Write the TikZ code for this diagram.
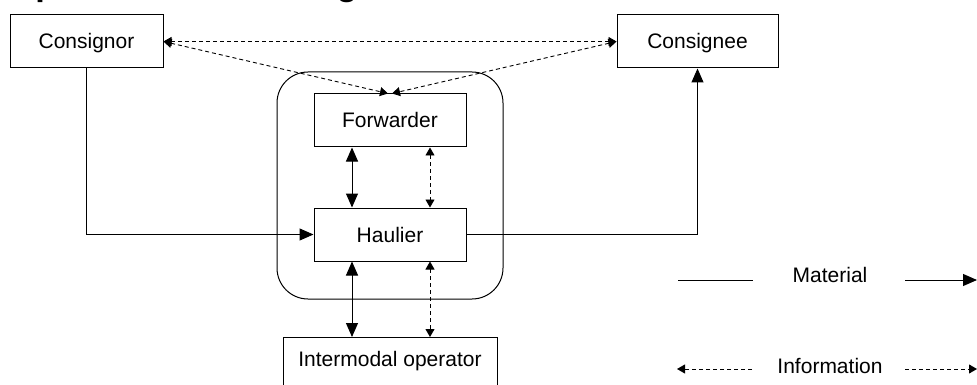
\documentclass[tikz,border=0pt]{standalone}
\usepackage{fontspec}
\setmainfont{Liberation Sans}
\usetikzlibrary{arrows.meta}
\begin{document}
\begin{tikzpicture}[x=1pt,y=-1pt,
  every node/.style={font=\fontsize{21}{25}\selectfont},
  box/.style={draw, line width=1pt, inner sep=0pt},
  lbl/.style={text height=15pt, text depth=0pt, inner sep=2pt},
  mat/.style={line width=1pt},
  info/.style={line width=0.9pt, dash pattern=on 4pt off 3pt},
  bigtip/.style={-{Triangle[length=14pt,width=12pt]}},
  bigtips/.style={{Triangle[length=14pt,width=12pt]}-{Triangle[length=14pt,width=12pt]}},
  smalltip/.style={-{Triangle[length=8pt,width=9pt]}},
  smalltips/.style={{Triangle[length=8pt,width=9pt]}-{Triangle[length=8pt,width=9pt]}}]

\useasboundingbox (0,0) rectangle (977,385);

% heading, only its lower edge falls inside the page
\begin{scope}
  \clip (0,0) rectangle (977,385);
  \node[anchor=base west, inner sep=0pt, font=\bfseries\fontsize{34.3}{40}\selectfont]
    (title) at (8.6,-4) {Operators in the freight chain};
\end{scope}

% actors
\node (cnor) [box, lbl, minimum width=153pt, minimum height=53pt] at (86.5,41.5) {Consignor};
\node (cnee) [box, lbl, minimum width=161pt, minimum height=53pt] at (697.5,41.5) {Consignee};
\node (grp)  [draw, line width=1pt, rounded corners=31pt, minimum width=226pt, minimum height=227pt] at (390,185.5) {};
\node (fwd)  [box, lbl, minimum width=152pt, minimum height=53pt] at (390,120.5) {Forwarder};
\node (haul) [box, lbl, minimum width=152pt, minimum height=53pt] at (390,234.5) {Haulier};
\node (iop)  [box, anchor=north, minimum width=214pt, minimum height=60pt] at (390,337) {};
\node (iopl) [lbl] at (390,359) {Intermodal operator};

% material flow
\draw[mat, bigtip] (cnor.south) |- (haul.west);
\draw[mat, bigtip] (haul.east) -| (cnee.south);
\draw[mat, bigtips] ([xshift=-38pt]fwd.south) -- ([xshift=-38pt]haul.north);
\draw[mat, bigtips] ([xshift=-38pt]haul.south) -- ([xshift=-38pt]iop.north);

% information flow
\draw[info, smalltips] (cnor.east) -- (cnee.west);
\draw[info, smalltips] (cnor.east) -- ([xshift=-2pt]fwd.north);
\draw[info, smalltips] (cnee.west) -- ([xshift=2pt]fwd.north);
\draw[info, smalltips] ([xshift=40pt]fwd.south) -- ([xshift=40pt]haul.north);
\draw[info, smalltips] ([xshift=40pt]haul.south) -- ([xshift=40pt]iop.north);

% legend
\node (lmat)  at (830,275) {Material};
\node (linfo) at (830,366) {Information};
\coordinate (m1) at (678,280);
\coordinate (m2) at (753,280);
\coordinate (m3) at (905,280);
\coordinate (m4) at (977,280);
\coordinate (i1) at (677,369);
\coordinate (i2) at (752,369);
\coordinate (i3) at (905,369);
\coordinate (i4) at (977,369);
\draw[mat] (m1) -- (m2);
\draw[mat, bigtip] (m3) -- (m4);
\draw[info, smalltip] (i2) -- (i1);
\draw[info, smalltip] (i3) -- (i4);
\end{tikzpicture}
\end{document}
